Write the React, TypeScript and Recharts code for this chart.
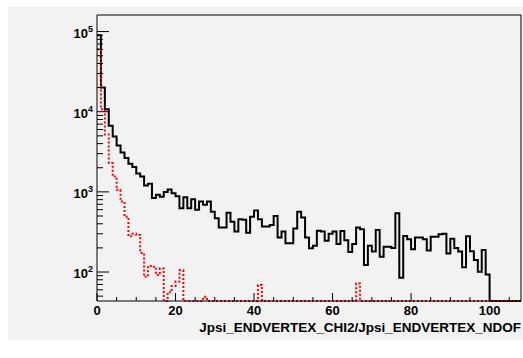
import { LineChart, Line, XAxis, YAxis, ReferenceLine } from "recharts";

// chi2/ndof histogram, 1 unit bins from 0 to 108
const binLow = [
  0, 1, 2, 3, 4, 5, 6, 7, 8, 9, 10, 11, 12, 13, 14, 15, 16, 17, 18, 19, 20, 21, 22, 23, 24, 25, 26,
  27, 28, 29, 30, 31, 32, 33, 34, 35, 36, 37, 38, 39, 40, 41, 42, 43, 44, 45, 46, 47, 48, 49, 50, 51,
  52, 53, 54, 55, 56, 57, 58, 59, 60, 61, 62, 63, 64, 65, 66, 67, 68, 69, 70, 71, 72, 73, 74, 75, 76,
  77, 78, 79, 80, 81, 82, 83, 84, 85, 86, 87, 88, 89, 90, 91, 92, 93, 94, 95, 96, 97, 98, 99, 100,
  101, 102, 103, 104, 105, 106, 107,
];
const xMax = 108;

const allCounts = [
  90000, 20000, 10700, 6700, 4900, 3800, 3100, 2650, 2250, 2050, 1700, 1550, 1200, 1260, 840, 920,
  870, 1000, 1070, 960, 880, 625, 860, 625, 810, 600, 760, 690, 760, 565, 470, 360, 360, 550, 425,
  320, 455, 450, 310, 490, 585, 455, 370, 370, 385, 500, 270, 320, 228, 228, 350, 565, 480, 270,
  198, 212, 328, 320, 246, 300, 320, 224, 325, 250, 178, 224, 360, 342, 122, 212, 180, 335, 155,
  207, 207, 200, 540, 85, 282, 256, 192, 270, 270, 256, 185, 276, 276, 295, 300, 170, 260, 200,
  180, 115, 280, 182, 141, 101, 188, 93, 0, 0, 0, 0, 0, 0, 0, 0,
];

const selCounts = [
  60000, 10700, 5200, 2290, 1550, 1060, 760, 490, 280, 300, 290, 173, 87, 119, 116, 92, 111, 0, 56,
  67, 76, 105, 0, 0, 0, 0, 0, 49, 0, 0, 0, 0, 0, 0, 0, 0, 0, 0, 0, 0, 0, 69, 0, 0, 0, 0, 0, 0, 0,
  0, 0, 0, 0, 0, 0, 0, 0, 0, 0, 0, 0, 0, 0, 0, 0, 0, 72, 0, 0, 0, 0, 0, 0, 0, 0, 0, 0, 0, 0, 0, 0,
  0, 0, 0, 0, 0, 0, 0, 0, 0, 0, 0, 0, 0, 0, 0, 0, 0, 0, 0, 0, 0, 0, 0, 0, 0, 0, 0,
];

const xTicks = [0, 5, 10, 15, 20, 25, 30, 35, 40, 45, 50, 55, 60, 65, 70, 75, 80, 85, 90, 95, 100, 105];
const yTicks = [
  50, 60, 70, 80, 90, 100, 200, 300, 400, 500, 600, 700, 800, 900, 1000, 2000, 3000, 4000, 5000,
  6000, 7000, 8000, 9000, 10000, 20000, 30000, 40000, 50000, 60000, 70000, 80000, 90000, 100000,
];
const yMin = 43.5;
const yMax = 161000;

const xTitle = "Jpsi_ENDVERTEX_CHI2/Jpsi_ENDVERTEX_NDOF";

const W = 515;
const H = 333;
const PLOT_LEFT = 89;
const PLOT_TOP = 8;
const PLOT_H = 286;
const PLOT_BOTTOM = PLOT_TOP + PLOT_H;
const FONT = "'Liberation Sans', Arial, Helvetica, sans-serif";

// empty bins sit on the bottom of the log axis
const data = binLow.map((x, i) => ({
  x,
  all: Math.max(allCounts[i], yMin),
  sel: Math.max(selCounts[i], yMin),
}));
data.push({
  x: xMax,
  all: Math.max(allCounts[allCounts.length - 1], yMin),
  sel: Math.max(selCounts[selCounts.length - 1], yMin),
});

function XTick(props: any) {
  const { x, payload } = props;
  const v = payload.value;
  const major = v % 20 === 0;
  return (
    <g>
      <line x1={x} x2={x} y1={PLOT_BOTTOM} y2={PLOT_BOTTOM - (major ? 8 : 4)} stroke="#000" />
      {major && (
        <text x={x} y={PLOT_BOTTOM + 13.5} textAnchor="middle" fontFamily={FONT} fontWeight="bold" fontSize={13} fill="#000">
          {v}
        </text>
      )}
    </g>
  );
}

function YTick(props: any) {
  const { y, payload } = props;
  const exp = Math.log10(payload.value);
  const major = Math.abs(exp - Math.round(exp)) < 1e-6;
  return (
    <g>
      <line x1={PLOT_LEFT} x2={PLOT_LEFT + (major ? 12 : 6)} y1={y} y2={y} stroke="#000" />
      {major && (
        <text x={PLOT_LEFT - 4} y={y + 6} textAnchor="end" fontFamily={FONT} fontWeight="bold" fontSize={13} fill="#000">
          10
          <tspan dy={-6} fontSize={9}>
            {Math.round(exp)}
          </tspan>
        </text>
      )}
    </g>
  );
}

export default function App() {
  return (
    <div style={{ position: "absolute", left: 8, top: 7, width: W, height: H, background: "#f2f2f2" }}>
      <LineChart width={W} height={H} data={data} margin={{ top: PLOT_TOP, right: 2, bottom: 9, left: 0 }}>
        <XAxis
          dataKey="x"
          type="number"
          domain={[0, xMax]}
          ticks={xTicks}
          interval={0}
          height={30}
          tickLine={false}
          axisLine={{ stroke: "#000" }}
          tick={<XTick />}
          label={() => (
            <text x={W - 2} y={324.5} textAnchor="end" fontFamily={FONT} fontWeight="bold" fontSize={13.5} fill="#000">
              {xTitle}
            </text>
          )}
        />
        <YAxis
          type="number"
          scale="log"
          domain={[yMin, yMax]}
          ticks={yTicks}
          interval={0}
          width={PLOT_LEFT}
          tickLine={false}
          axisLine={{ stroke: "#000" }}
          tick={<YTick />}
        />
        <ReferenceLine y={yMax} stroke="#000" />
        <ReferenceLine x={xMax} stroke="#000" />
        <Line dataKey="all" type="stepAfter" stroke="#000" strokeWidth={2} dot={false} isAnimationActive={false} />
        <Line
          dataKey="sel"
          type="stepAfter"
          stroke="#ff0000"
          strokeWidth={2}
          strokeDasharray="2 2"
          dot={false}
          isAnimationActive={false}
        />
      </LineChart>
    </div>
  );
}
